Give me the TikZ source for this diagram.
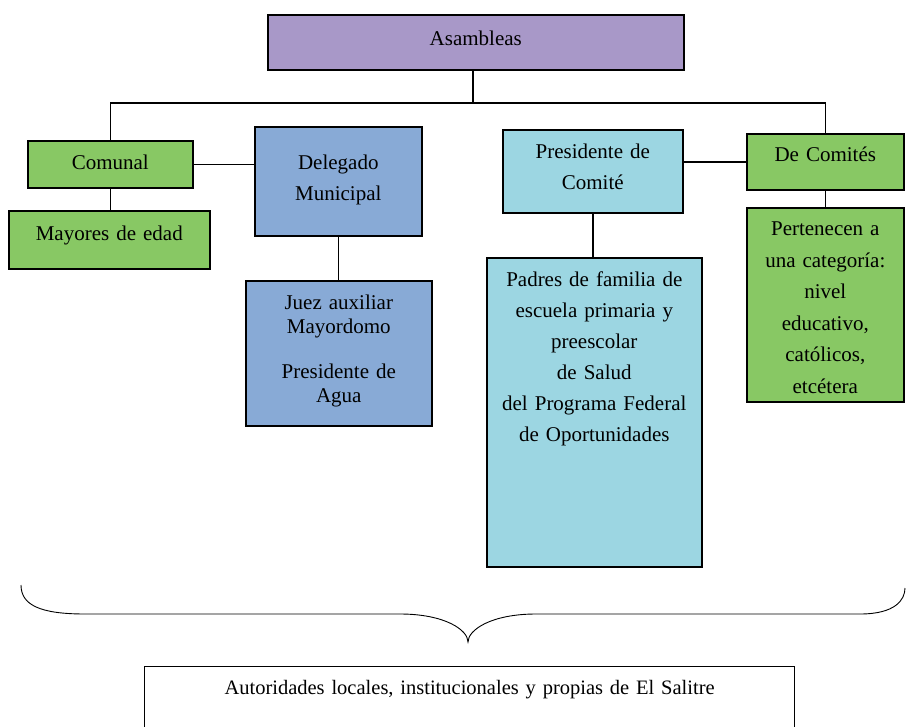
\documentclass[tikz,border=0pt]{standalone}
\usepackage{fontspec}
\setmainfont{Liberation Serif}
\usepackage{xcolor}
\usetikzlibrary{positioning}
\definecolor{lila}{RGB}{168,152,200}
\definecolor{verde}{RGB}{136,200,100}
\definecolor{azul}{RGB}{136,170,214}
\definecolor{celeste}{RGB}{156,214,226}

\begin{document}
\begin{tikzpicture}[x=1pt,y=-1pt,font=\fontsize{21}{31}\selectfont,
box/.style={draw,line width=1.6pt,align=center,inner sep=0pt,anchor=north west},
lnk/.style={line width=1.6pt}]
\useasboundingbox (0,0) rectangle (908,726);
\node[box,fill=lila,text width=416pt,text height=31pt,text depth=24pt] (asam) at (267,14) {Asambleas};
\node[box,fill=verde,text width=165pt,text height=29pt,text depth=18pt] (comunal) at (27,140) {Comunal};
\node[box,fill=verde,text width=201pt,text height=30pt,text depth=28pt] (mayores) at (8,210) {Mayores de edad};
\node[box,fill=azul,text width=167pt,text height=43pt,text depth=66pt] (delegado) at (254,126) {Delegado\\Municipal};
\node[box,fill=azul,text width=186pt,text height=29pt,text depth=116pt,font=\fontsize{21}{24}\selectfont] (juez) at (245,280) {Juez auxiliar\\Mayordomo\\[21pt]Presidente de\\Agua};
\node[box,fill=celeste,text width=180pt,text height=29pt,text depth=54pt] (presc) at (502,129) {Presidente de\\Comité};
\node[box,fill=celeste,text width=215pt,text height=29pt,text depth=280pt] (padres) at (486,257) {Padres de familia de\\escuela primaria y\\preescolar\\de Salud\\del Programa Federal\\de Oportunidades};
\node[box,fill=verde,text width=157pt,text height=28pt,text depth=28pt] (decom) at (746,133) {De Comités};
\node[box,fill=verde,text width=157pt,text height=28pt,text depth=166pt,font=\fontsize{21}{31.5}\selectfont] (perten) at (746,207) {Pertenecen a\\una categoría:\\nivel\\educativo,\\católicos,\\etcétera};
\node[box,line width=1.2pt,text width=650pt,text height=28pt,text depth=50pt,font=\fontsize{20.5}{24}\selectfont] (salitre) at (144,666) {Autoridades locales, institucionales y propias de El Salitre};
\coordinate (bus) at (473,103);
\draw[lnk] (asam.south -| bus) -- (bus);
\draw[lnk] (comunal.north) |- (bus) -| (decom.north);
\draw[lnk] (comunal.east) -- (comunal.east -| delegado.west);
\draw[lnk] (comunal.south) -- (comunal.south |- mayores.north);
\draw[lnk] (delegado.south) -- (delegado.south |- juez.north);
\draw[lnk] (decom.west) -- (decom.west -| presc.east);
\draw[lnk] (presc.south) -- (presc.south |- padres.north);
\draw[lnk] (decom.south) -- (decom.south |- perten.north);
% llave
\draw[line width=0.9pt] (21,585) .. controls (21,605) and (40,614) .. (85,614) -- (400,614) .. controls (445,614) and (468,630) .. (468,642) .. controls (468,630) and (491,614) .. (536,614) -- (860,614) .. controls (895,614) and (905,600) .. (905,588);
\end{tikzpicture}
\end{document}
